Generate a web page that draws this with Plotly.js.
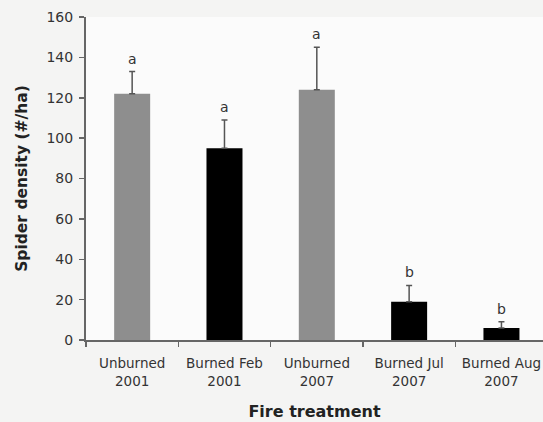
<!DOCTYPE html>
<html>
<head>
<meta charset="utf-8">
<script src="https://cdn.plot.ly/plotly-3.0.1.min.js"></script>
<style>html,body{margin:0;padding:0;background:#f4f4f3;}</style>
</head>
<body>
<div id="chart" style="width:543px;height:422px;"></div>
<script>
var categories = ["Unburned<br>2001", "Burned Feb<br>2001", "Unburned<br>2007", "Burned Jul<br>2007", "Burned Aug<br>2007"];
var density = [122, 95, 124, 19, 6];
var seUpper = [11, 14, 21, 8, 3];
var letters = ["a", "a", "a", "b", "b"];
var burned = [false, true, false, true, true];

var barColors = burned.map(function(b){ return b ? "#000000" : "#8e8e8e"; });

var trace = {
  type: "bar",
  x: categories,
  y: density,
  width: 0.39,
  marker: {color: barColors, line: {width: 0}},
  error_y: {
    type: "data",
    symmetric: false,
    array: seUpper,
    arrayminus: seUpper.map(function(){ return 0; }),
    color: "#555555",
    thickness: 1.5,
    width: 3
  },
  hoverinfo: "none"
};

var annotations = categories.map(function(c, i){
  return {
    x: c, y: density[i] + seUpper[i],
    xref: "x", yref: "y",
    text: letters[i],
    showarrow: false,
    yanchor: "bottom",
    yshift: 3,
    font: {family: "DejaVu Sans, Verdana, sans-serif", size: 14, color: "#333"}
  };
});

var layout = {
  width: 543, height: 422,
  margin: {l: 86, r: 0, t: 17, b: 82},
  paper_bgcolor: "#f4f4f3",
  plot_bgcolor: "#fbfbfb",
  showlegend: false,
  font: {family: "DejaVu Sans, Verdana, sans-serif", size: 13.5, color: "#333"},
  bargap: 0.6,
  xaxis: {
    type: "category",
    range: [-0.5, 4.45],
    tickson: "boundaries",
    ticks: "outside", ticklen: 5, tickwidth: 1.5, tickcolor: "#666",
    showline: true, linecolor: "#666", linewidth: 2,
    showgrid: false, zeroline: false,
    ticklabelstandoff: 10,
    tickfont: {size: 13.5, color: "#333"},
    title: {text: "<b>Fire treatment</b>", font: {size: 16, color: "#222"}, standoff: 18}
  },
  yaxis: {
    range: [0, 160],
    dtick: 20,
    ticks: "outside", ticklen: 5, tickwidth: 1.5, tickcolor: "#666",
    showline: true, linecolor: "#666", linewidth: 2,
    showgrid: false, zeroline: false,
    ticklabelstandoff: 3,
    tickfont: {size: 14, color: "#333"},
    title: {text: "<b>Spider density (#/ha)</b>", font: {size: 15.5, color: "#222"}, standoff: 15}
  },
  annotations: annotations
};

Plotly.newPlot("chart", [trace], layout, {displayModeBar: false, staticPlot: true});
</script>
</body>
</html>
